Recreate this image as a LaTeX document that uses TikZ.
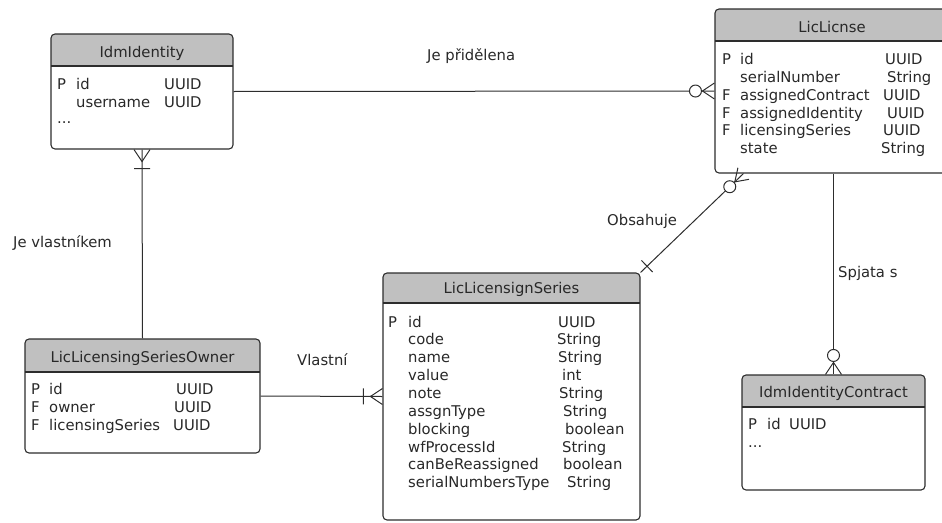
\documentclass[tikz,border=0pt]{standalone}
\usepackage{fontspec}
\setmainfont{DejaVu Sans}
\usetikzlibrary{calc,fit}
\definecolor{hdr}{RGB}{192,192,192}
\definecolor{ink}{RGB}{40,40,40}
\definecolor{edgec}{RGB}{45,45,45}
\tikzset{
  lbl/.style={inner sep=0pt, text=ink, font=\fontsize{14.8}{17}\selectfont},
  boxline/.style={draw=edgec, line width=1.1pt, rounded corners=4pt, inner sep=0pt},
  conn/.style={draw=edgec, line width=1pt},
}
% name, x1, y1, x2, y2, yheader, title baseline, title
\newcommand\erbox[8]{%
  \begin{scope}
    \clip[rounded corners=4pt] (#2,#3) rectangle (#4,#5);
    \fill[hdr] (#2,#3) rectangle (#4,#6);
  \end{scope}
  \draw[edgec, line width=1.1pt] (#2,#6) -- (#4,#6);
  \node[boxline, fit={(#2,#3) (#4,#5)}] (#1) {};
  \node[lbl, anchor=base] (#1-t) at ({(#2+#4)/2},#7) {#8};
}
\newcommand\txt[4]{\node[lbl, anchor=base west] (#1) at (#2,#3) {#4};}
% crow's foot at #1 (box side), pointing to #2
\newcommand\crowmany[2]{%
  \draw[conn] ($(#1)!8pt!90:(#2)$) -- ($(#1)!12pt!(#2)$) -- ($(#1)!8pt!-90:(#2)$);
}
\newcommand\crowbar[3]{%
  \coordinate (cbtmp) at ($(#1)!#3!(#2)$);
  \draw[conn] ($(cbtmp)!8pt!90:(#2)$) -- ($(cbtmp)!8pt!-90:(#2)$);
}
\newcommand\crowzero[3]{%
  \draw[conn, fill=white] ($(#1)!#3!(#2)$) circle (6pt);
}
\begin{document}
\begin{tikzpicture}[x=1pt, y=-1pt]
\useasboundingbox (0,0) rectangle (942,522);
\clip (0,0) rectangle (942,522);

% ---------- boxes ----------
\erbox{idm}{51}{34}{233}{149}{66}{57}{IdmIdentity}
\txt{idm1}{57}{89}{P}
\txt{idm2}{76}{89}{id}
\txt{idm3}{164}{89}{UUID}
\txt{idm4}{76}{107}{username}
\txt{idm5}{164}{107}{UUID}
\txt{idm6}{57}{123}{...}

\erbox{lic}{715}{9}{949}{173}{41}{32}{LicLicnse}
\txt{lic1}{722}{64}{P}
\txt{lic2}{740}{64}{id}
\txt{lic3}{885}{64}{UUID}
\txt{lic4}{740}{82}{serialNumber}
\txt{lic5}{887}{82}{String}
\txt{lic6}{722}{100}{F}
\txt{lic7}{740}{100}{assignedContract}
\txt{lic8}{883}{100}{UUID}
\txt{lic9}{722}{118}{F}
\txt{lic10}{740}{118}{assignedIdentity}
\txt{lic11}{887}{118}{UUID}
\txt{lic12}{722}{135}{F}
\txt{lic13}{740}{135}{licensingSeries}
\txt{lic14}{883}{135}{UUID}
\txt{lic15}{740}{153}{state}
\txt{lic16}{881}{153}{String}

\erbox{ser}{383}{273}{640}{520}{303}{293}{LicLicensignSeries}
\txt{ser0}{388}{327}{P}
\txt{ser1}{408}{327}{id}
\txt{ser2}{558}{327}{UUID}
\txt{ser3}{408}{344}{code}
\txt{ser4}{557}{344}{String}
\txt{ser5}{408}{362}{name}
\txt{ser6}{558}{362}{String}
\txt{ser7}{408}{380}{value}
\txt{ser8}{562}{380}{int}
\txt{ser9}{408}{398}{note}
\txt{ser10}{559}{398}{String}
\txt{ser11}{408}{416}{assgnType}
\txt{ser12}{563}{416}{String}
\txt{ser13}{408}{434}{blocking}
\txt{ser14}{565}{434}{boolean}
\txt{ser15}{408}{452}{wfProcessId}
\txt{ser16}{562}{452}{String}
\txt{ser17}{408}{469}{canBeReassigned}
\txt{ser18}{563}{469}{boolean}
\txt{ser19}{408}{487}{serialNumbersType}
\txt{ser20}{567}{487}{String}

\erbox{own}{25}{339}{260}{453}{372}{362}{LicLicensingSeriesOwner}
\txt{own1}{31}{394}{P}
\txt{own2}{49}{394}{id}
\txt{own3}{176}{394}{UUID}
\txt{own4}{31}{412}{F}
\txt{own5}{49}{412}{owner}
\txt{own6}{174}{412}{UUID}
\txt{own7}{31}{430}{F}
\txt{own8}{49}{430}{licensingSeries}
\txt{own9}{173}{430}{UUID}

\erbox{con}{742}{375}{925}{490}{407}{397}{IdmIdentityContract}
\txt{con1}{748}{429}{P}
\txt{con2}{767}{429}{id}
\txt{con3}{789}{429}{UUID}
\txt{con4}{748}{447}{...}

% ---------- connectors ----------
\draw[conn] (idm.east) -- (lic.west);
\crowmany{lic.west}{idm.east}
\crowzero{lic.west}{idm.east}{19pt}

\draw[conn] (idm.south) -- (own.north);
\crowmany{idm.south}{own.north}
\crowbar{idm.south}{own.north}{19pt}

\draw[conn] (own.east) -- (ser.west);
\crowmany{ser.west}{own.east}
\crowbar{ser.west}{own.east}{19pt}

\coordinate (licb) at (con.north |- lic.south);
\draw[conn] (licb) -- (con.north);
\crowmany{con.north}{licb}
\crowzero{con.north}{licb}{19pt}

\coordinate (licd) at ($(lic.south west)+(29,0)$);
\draw[conn] (licd) -- (ser.north east);
\crowmany{licd}{ser.north east}
\crowzero{licd}{ser.north east}{19pt}
\crowbar{ser.north east}{licd}{9pt}

% ---------- relation labels ----------
\txt{l1}{427}{60}{Je přidělena}
\txt{l2}{13}{247}{Je vlastníkem}
\txt{l3}{607}{225}{Obsahuje}
\txt{l4}{838}{277}{Spjata s}
\txt{l5}{297}{365}{Vlastní}
\end{tikzpicture}
\end{document}
